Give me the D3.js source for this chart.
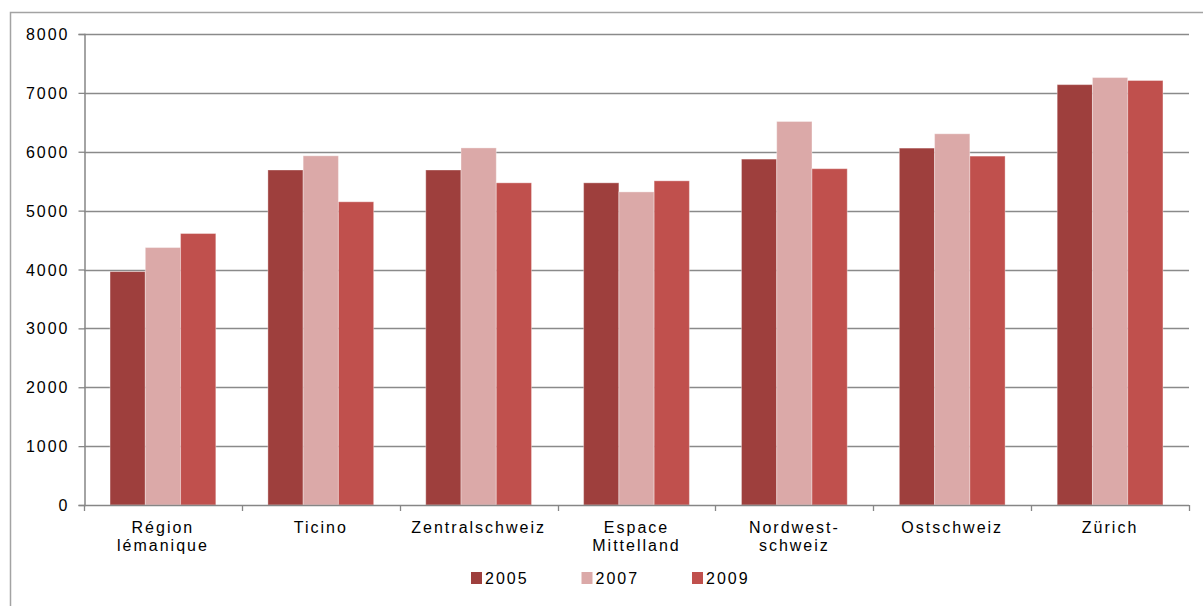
<!DOCTYPE html>
<html>
<head>
<meta charset="utf-8">
<script src="https://cdn.jsdelivr.net/npm/d3@7"></script>
<style>
  html, body { margin: 0; padding: 0; background: #fff; }
  svg { display: block; }
  text { font-family: "Liberation Sans", Arial, sans-serif; fill: #000; }
</style>
</head>
<body>
<svg id="chart" width="1203" height="606"></svg>
<script>
const categories = [["Région", "lémanique"], ["Ticino"], ["Zentralschweiz"], ["Espace", "Mittelland"], ["Nordwest-", "schweiz"], ["Ostschweiz"], ["Zürich"]];
const seriesNames = ["2005", "2007", "2009"];
const values2005 = [3965, 5690, 5690, 5472, 5875, 6062, 7140];
const values2007 = [4373, 5931, 6065, 5318, 6514, 6305, 7260];
const values2009 = [4611, 5150, 5472, 5506, 5712, 5926, 7210];
const yTicks = [0, 1000, 2000, 3000, 4000, 5000, 6000, 7000, 8000];
const colors = ["#9E3F3D", "#DBA9A8", "#C0504D"];

const series = [values2005, values2007, values2009];
const svg = d3.select("#chart");

const mLeft = 84, mRight = 1189, mTop = 34, mBottom = 505;
const fs = 16, ls = "2px";

// outer frame
svg.append("path")
  .attr("d", `M10.5,606 L10.5,12.5 L1203,12.5`)
  .attr("fill", "none").attr("stroke", "#a3a3a3").attr("stroke-width", 1.5);

const catKeys = categories.map((c, i) => i);
const x0 = d3.scaleBand().domain(catKeys).range([mLeft, mRight]).paddingInner(0).paddingOuter(0);
const groupW = x0.bandwidth() * 0.67;
const x1 = d3.scaleBand().domain(seriesNames).range([0, groupW]);
const y = d3.scaleLinear().domain([0, 8000]).range([mBottom, mTop]);

// gridlines
svg.append("g").selectAll("line").data(yTicks.filter(t => t > 0)).join("line")
  .attr("x1", mLeft).attr("x2", mRight)
  .attr("y1", d => Math.round(y(d)) + 0.5).attr("y2", d => Math.round(y(d)) + 0.5)
  .attr("stroke", "#8a8a8a").attr("stroke-width", 1.3);

// bars
const groups = svg.append("g").selectAll("g").data(catKeys).join("g")
  .attr("transform", i => `translate(${x0(i) + (x0.bandwidth() - groupW) / 2},0)`);
groups.selectAll("rect").data(i => seriesNames.map((s, k) => ({ s, k, v: series[k][i] }))).join("rect")
  .attr("x", d => x1(d.s))
  .attr("width", x1.bandwidth())
  .attr("y", d => y(d.v))
  .attr("height", d => mBottom - y(d.v))
  .attr("fill", d => colors[d.k])
  .attr("stroke", "rgba(255,255,255,0.35)").attr("stroke-width", 1);

// y axis
const yAxis = d3.axisLeft(y).tickValues(yTicks).tickSize(6).tickPadding(9).tickFormat(d3.format("d"));
const gy = svg.append("g").attr("transform", `translate(${mLeft + 0.5},0)`).call(yAxis);
gy.select(".domain").attr("stroke", "#868686").attr("stroke-width", 1.5);
gy.selectAll(".tick line").attr("stroke", "#868686").attr("stroke-width", 1.3);
gy.selectAll(".tick text").attr("font-size", fs).attr("letter-spacing", ls)
  .attr("font-family", "Liberation Sans, Arial, sans-serif").attr("fill", "#000").attr("dy", "0.35em");

// x axis line and ticks
const bounds = d3.range(categories.length + 1).map(i => mLeft + i * x0.bandwidth());
svg.append("line").attr("x1", mLeft).attr("x2", mRight).attr("y1", mBottom + 0.5).attr("y2", mBottom + 0.5)
  .attr("stroke", "#868686").attr("stroke-width", 1.5);
svg.append("g").selectAll("line").data(bounds).join("line")
  .attr("x1", d => Math.round(d) + 0.5).attr("x2", d => Math.round(d) + 0.5)
  .attr("y1", mBottom).attr("y2", mBottom + 6)
  .attr("stroke", "#868686").attr("stroke-width", 1.3);

// x labels
const xl = svg.append("g").selectAll("text").data(catKeys).join("text")
  .attr("x", i => x0(i) + x0.bandwidth() / 2)
  .attr("y", 533)
  .attr("text-anchor", "middle")
  .attr("font-size", fs).attr("letter-spacing", ls);
xl.selectAll("tspan").data(i => categories[i].map((line, k) => ({ line, k, i }))).join("tspan")
  .attr("x", d => x0(d.i) + x0.bandwidth() / 2)
  .attr("dy", d => d.k === 0 ? 0 : 17.5)
  .text(d => d.line);

// legend
const legendX = d3.scalePoint().domain(seriesNames).range([471, 692]);
const lg = svg.append("g").selectAll("g").data(seriesNames).join("g")
  .attr("transform", d => `translate(${legendX(d)},0)`);
lg.append("rect").attr("x", 0).attr("y", 572).attr("width", 11).attr("height", 12)
  .attr("fill", (d, k) => colors[k]);
lg.append("text").attr("x", 14).attr("y", 584).attr("font-size", fs).attr("letter-spacing", ls).text(d => d);
</script>
</body>
</html>
